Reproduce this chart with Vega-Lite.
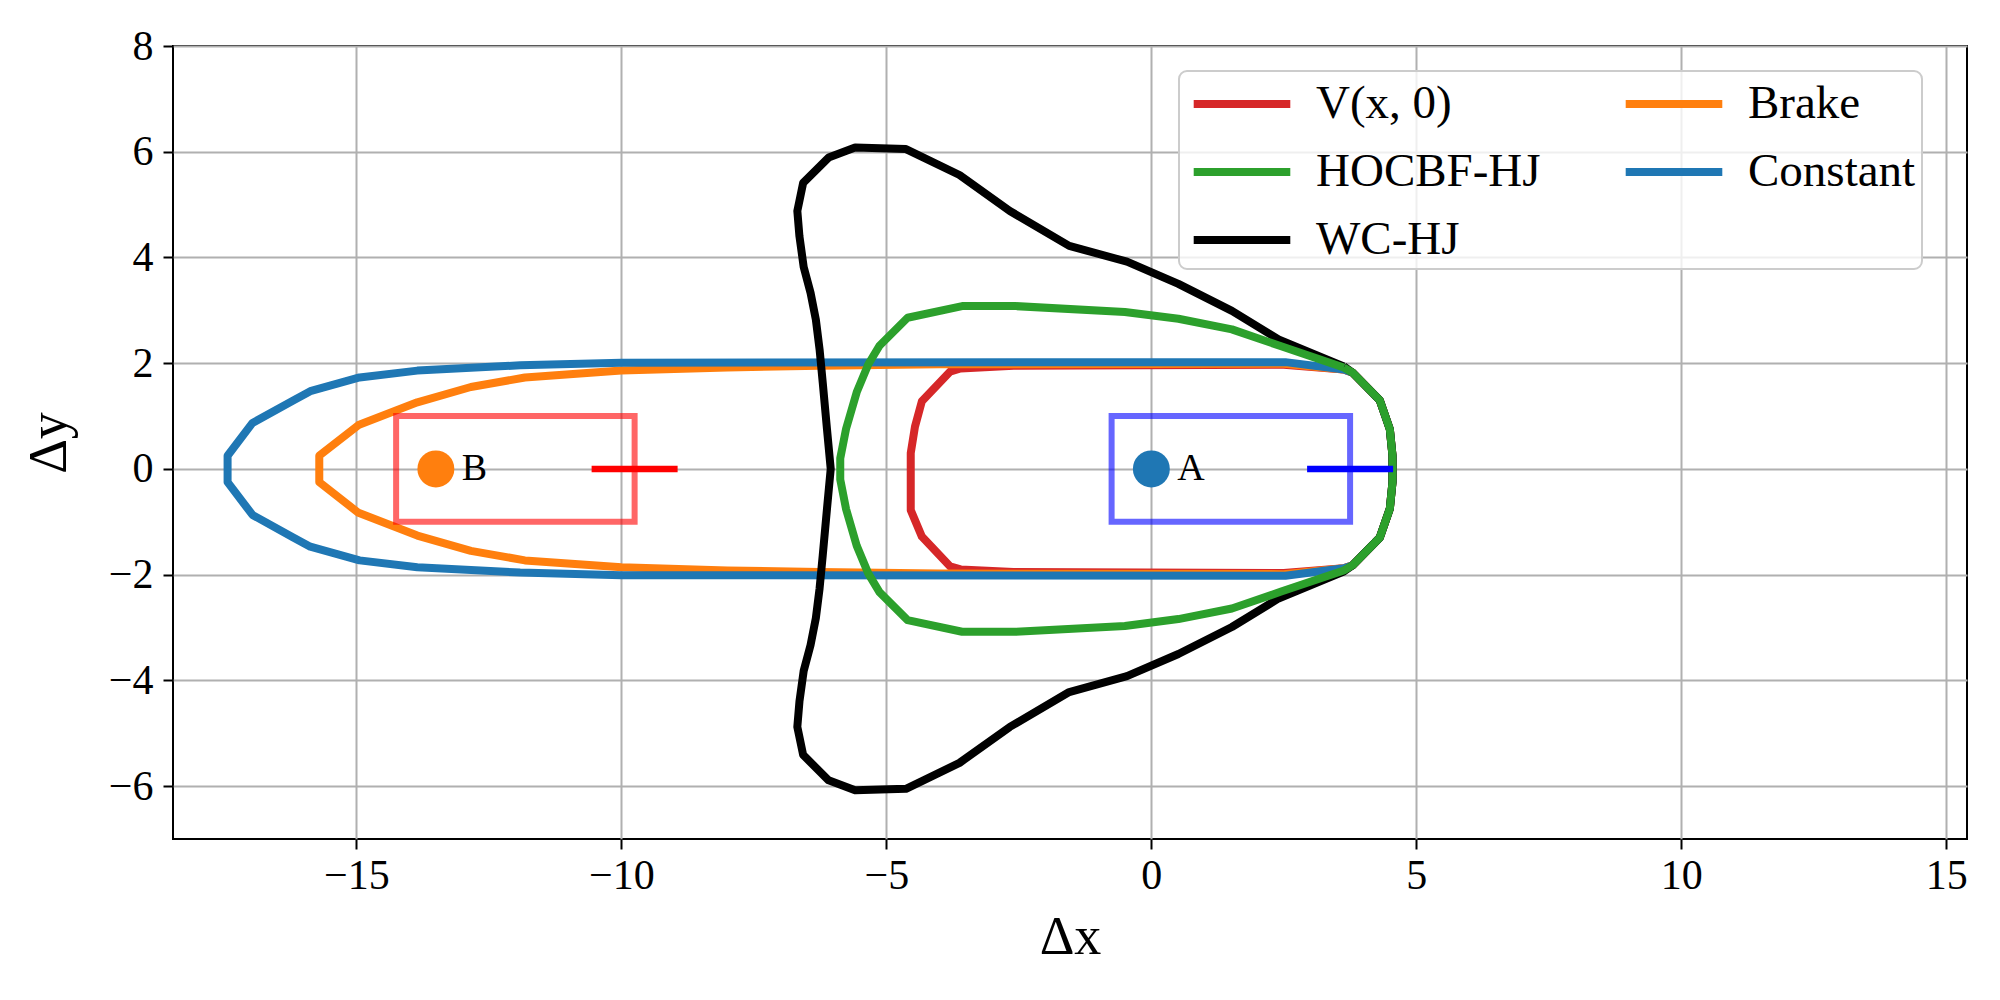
{
"$schema": "https://vega.github.io/schema/vega-lite/v6.json",
"width": 1794, "height": 793,
"autosize": {"type": "none"},
"padding": {"left": 173, "top": 46, "right": 33, "bottom": 161},
"background": "white",
"datasets": {
"curves": [
{"method":"V(x, 0)","i":0,"x":3.63,"y":1.88},{"method":"V(x, 0)","i":1,"x":2.5,"y":1.97},{"method":"V(x, 0)","i":2,"x":-2.6,"y":1.95},{"method":"V(x, 0)","i":3,"x":-3.6,"y":1.9},{"method":"V(x, 0)","i":4,"x":-3.8,"y":1.84},{"method":"V(x, 0)","i":5,"x":-4.33,"y":1.28},{"method":"V(x, 0)","i":6,"x":-4.46,"y":0.8},{"method":"V(x, 0)","i":7,"x":-4.54,"y":0.3},{"method":"V(x, 0)","i":8,"x":-4.54,"y":-0.3},{"method":"V(x, 0)","i":9,"x":-4.54,"y":-0.78},{"method":"V(x, 0)","i":10,"x":-4.33,"y":-1.28},{"method":"V(x, 0)","i":11,"x":-3.8,"y":-1.84},{"method":"V(x, 0)","i":12,"x":-3.6,"y":-1.9},{"method":"V(x, 0)","i":13,"x":-2.6,"y":-1.95},{"method":"V(x, 0)","i":14,"x":2.5,"y":-1.97},{"method":"V(x, 0)","i":15,"x":3.63,"y":-1.88},{"method":"V(x, 0)","i":16,"x":3.8,"y":-1.82},{"method":"V(x, 0)","i":17,"x":4.31,"y":-1.3},{"method":"V(x, 0)","i":18,"x":4.5,"y":-0.75},{"method":"V(x, 0)","i":19,"x":4.55,"y":-0.25},{"method":"V(x, 0)","i":20,"x":4.55,"y":0.25},{"method":"V(x, 0)","i":21,"x":4.5,"y":0.75},{"method":"V(x, 0)","i":22,"x":4.31,"y":1.3},{"method":"V(x, 0)","i":23,"x":3.8,"y":1.82},{"method":"V(x, 0)","i":24,"x":3.63,"y":1.88},
{"method":"Brake","i":0,"x":3.63,"y":1.88},{"method":"Brake","i":1,"x":2.5,"y":1.99},{"method":"Brake","i":2,"x":-4.0,"y":1.98},{"method":"Brake","i":3,"x":-6.26,"y":1.95},{"method":"Brake","i":4,"x":-8.0,"y":1.92},{"method":"Brake","i":5,"x":-10.0,"y":1.86},{"method":"Brake","i":6,"x":-11.82,"y":1.73},{"method":"Brake","i":7,"x":-12.84,"y":1.55},{"method":"Brake","i":8,"x":-13.85,"y":1.26},{"method":"Brake","i":9,"x":-14.96,"y":0.83},{"method":"Brake","i":10,"x":-15.7,"y":0.25},{"method":"Brake","i":11,"x":-15.7,"y":-0.25},{"method":"Brake","i":12,"x":-14.96,"y":-0.83},{"method":"Brake","i":13,"x":-13.85,"y":-1.26},{"method":"Brake","i":14,"x":-12.84,"y":-1.55},{"method":"Brake","i":15,"x":-11.82,"y":-1.73},{"method":"Brake","i":16,"x":-10.0,"y":-1.86},{"method":"Brake","i":17,"x":-8.0,"y":-1.92},{"method":"Brake","i":18,"x":-6.26,"y":-1.95},{"method":"Brake","i":19,"x":-4.0,"y":-1.98},{"method":"Brake","i":20,"x":2.5,"y":-1.99},{"method":"Brake","i":21,"x":3.63,"y":-1.88},{"method":"Brake","i":22,"x":3.8,"y":-1.82},{"method":"Brake","i":23,"x":4.31,"y":-1.3},{"method":"Brake","i":24,"x":4.5,"y":-0.75},{"method":"Brake","i":25,"x":4.55,"y":-0.25},{"method":"Brake","i":26,"x":4.55,"y":0.25},{"method":"Brake","i":27,"x":4.5,"y":0.75},{"method":"Brake","i":28,"x":4.31,"y":1.3},{"method":"Brake","i":29,"x":3.8,"y":1.82},{"method":"Brake","i":30,"x":3.63,"y":1.88},
{"method":"Constant","i":0,"x":3.63,"y":1.88},{"method":"Constant","i":1,"x":2.53,"y":2.02},{"method":"Constant","i":2,"x":-10.0,"y":2.01},{"method":"Constant","i":3,"x":-11.91,"y":1.96},{"method":"Constant","i":4,"x":-13.85,"y":1.86},{"method":"Constant","i":5,"x":-14.94,"y":1.73},{"method":"Constant","i":6,"x":-15.87,"y":1.47},{"method":"Constant","i":7,"x":-16.2,"y":1.29},{"method":"Constant","i":8,"x":-16.96,"y":0.87},{"method":"Constant","i":9,"x":-17.43,"y":0.25},{"method":"Constant","i":10,"x":-17.43,"y":-0.25},{"method":"Constant","i":11,"x":-16.96,"y":-0.87},{"method":"Constant","i":12,"x":-16.2,"y":-1.29},{"method":"Constant","i":13,"x":-15.87,"y":-1.47},{"method":"Constant","i":14,"x":-14.94,"y":-1.73},{"method":"Constant","i":15,"x":-13.85,"y":-1.86},{"method":"Constant","i":16,"x":-11.91,"y":-1.96},{"method":"Constant","i":17,"x":-10.0,"y":-2.01},{"method":"Constant","i":18,"x":2.53,"y":-2.02},{"method":"Constant","i":19,"x":3.63,"y":-1.88},{"method":"Constant","i":20,"x":3.8,"y":-1.82},{"method":"Constant","i":21,"x":4.31,"y":-1.3},{"method":"Constant","i":22,"x":4.5,"y":-0.75},{"method":"Constant","i":23,"x":4.55,"y":-0.25},{"method":"Constant","i":24,"x":4.55,"y":0.25},{"method":"Constant","i":25,"x":4.5,"y":0.75},{"method":"Constant","i":26,"x":4.31,"y":1.3},{"method":"Constant","i":27,"x":3.8,"y":1.82},{"method":"Constant","i":28,"x":3.63,"y":1.88},
{"method":"WC-HJ","i":0,"x":3.63,"y":1.94},{"method":"WC-HJ","i":1,"x":2.4,"y":2.45},{"method":"WC-HJ","i":2,"x":1.52,"y":2.99},{"method":"WC-HJ","i":3,"x":0.51,"y":3.5},{"method":"WC-HJ","i":4,"x":-0.46,"y":3.92},{"method":"WC-HJ","i":5,"x":-1.55,"y":4.22},{"method":"WC-HJ","i":6,"x":-2.67,"y":4.88},{"method":"WC-HJ","i":7,"x":-3.62,"y":5.56},{"method":"WC-HJ","i":8,"x":-4.63,"y":6.05},{"method":"WC-HJ","i":9,"x":-5.59,"y":6.08},{"method":"WC-HJ","i":10,"x":-6.09,"y":5.89},{"method":"WC-HJ","i":11,"x":-6.57,"y":5.41},{"method":"WC-HJ","i":12,"x":-6.68,"y":4.88},{"method":"WC-HJ","i":13,"x":-6.64,"y":4.4},{"method":"WC-HJ","i":14,"x":-6.56,"y":3.82},{"method":"WC-HJ","i":15,"x":-6.43,"y":3.33},{"method":"WC-HJ","i":16,"x":-6.33,"y":2.82},{"method":"WC-HJ","i":17,"x":-6.26,"y":2.26},{"method":"WC-HJ","i":18,"x":-6.2,"y":1.63},{"method":"WC-HJ","i":19,"x":-6.12,"y":0.75},{"method":"WC-HJ","i":20,"x":-6.05,"y":0.0},{"method":"WC-HJ","i":21,"x":-6.12,"y":-0.75},{"method":"WC-HJ","i":22,"x":-6.2,"y":-1.63},{"method":"WC-HJ","i":23,"x":-6.26,"y":-2.26},{"method":"WC-HJ","i":24,"x":-6.33,"y":-2.82},{"method":"WC-HJ","i":25,"x":-6.43,"y":-3.33},{"method":"WC-HJ","i":26,"x":-6.56,"y":-3.82},{"method":"WC-HJ","i":27,"x":-6.64,"y":-4.4},{"method":"WC-HJ","i":28,"x":-6.68,"y":-4.88},{"method":"WC-HJ","i":29,"x":-6.57,"y":-5.41},{"method":"WC-HJ","i":30,"x":-6.09,"y":-5.89},{"method":"WC-HJ","i":31,"x":-5.59,"y":-6.08},{"method":"WC-HJ","i":32,"x":-4.63,"y":-6.05},{"method":"WC-HJ","i":33,"x":-3.62,"y":-5.56},{"method":"WC-HJ","i":34,"x":-2.67,"y":-4.88},{"method":"WC-HJ","i":35,"x":-1.55,"y":-4.22},{"method":"WC-HJ","i":36,"x":-0.46,"y":-3.92},{"method":"WC-HJ","i":37,"x":0.51,"y":-3.5},{"method":"WC-HJ","i":38,"x":1.52,"y":-2.99},{"method":"WC-HJ","i":39,"x":2.4,"y":-2.45},{"method":"WC-HJ","i":40,"x":3.63,"y":-1.94},{"method":"WC-HJ","i":41,"x":3.8,"y":-1.82},{"method":"WC-HJ","i":42,"x":4.31,"y":-1.3},{"method":"WC-HJ","i":43,"x":4.5,"y":-0.75},{"method":"WC-HJ","i":44,"x":4.55,"y":-0.25},{"method":"WC-HJ","i":45,"x":4.55,"y":0.25},{"method":"WC-HJ","i":46,"x":4.5,"y":0.75},{"method":"WC-HJ","i":47,"x":4.31,"y":1.3},{"method":"WC-HJ","i":48,"x":3.8,"y":1.82},{"method":"WC-HJ","i":49,"x":3.63,"y":1.94},
{"method":"HOCBF-HJ","i":0,"x":3.63,"y":1.92},{"method":"HOCBF-HJ","i":1,"x":2.45,"y":2.32},{"method":"HOCBF-HJ","i":2,"x":1.52,"y":2.64},{"method":"HOCBF-HJ","i":3,"x":0.51,"y":2.84},{"method":"HOCBF-HJ","i":4,"x":-0.5,"y":2.97},{"method":"HOCBF-HJ","i":5,"x":-2.56,"y":3.08},{"method":"HOCBF-HJ","i":6,"x":-3.57,"y":3.08},{"method":"HOCBF-HJ","i":7,"x":-4.6,"y":2.86},{"method":"HOCBF-HJ","i":8,"x":-5.13,"y":2.33},{"method":"HOCBF-HJ","i":9,"x":-5.34,"y":1.98},{"method":"HOCBF-HJ","i":10,"x":-5.56,"y":1.45},{"method":"HOCBF-HJ","i":11,"x":-5.76,"y":0.76},{"method":"HOCBF-HJ","i":12,"x":-5.87,"y":0.2},{"method":"HOCBF-HJ","i":13,"x":-5.87,"y":-0.2},{"method":"HOCBF-HJ","i":14,"x":-5.76,"y":-0.76},{"method":"HOCBF-HJ","i":15,"x":-5.56,"y":-1.45},{"method":"HOCBF-HJ","i":16,"x":-5.34,"y":-1.98},{"method":"HOCBF-HJ","i":17,"x":-5.13,"y":-2.33},{"method":"HOCBF-HJ","i":18,"x":-4.6,"y":-2.86},{"method":"HOCBF-HJ","i":19,"x":-3.57,"y":-3.08},{"method":"HOCBF-HJ","i":20,"x":-2.56,"y":-3.08},{"method":"HOCBF-HJ","i":21,"x":-0.5,"y":-2.97},{"method":"HOCBF-HJ","i":22,"x":0.51,"y":-2.84},{"method":"HOCBF-HJ","i":23,"x":1.52,"y":-2.64},{"method":"HOCBF-HJ","i":24,"x":2.45,"y":-2.32},{"method":"HOCBF-HJ","i":25,"x":3.63,"y":-1.92},{"method":"HOCBF-HJ","i":26,"x":3.8,"y":-1.82},{"method":"HOCBF-HJ","i":27,"x":4.31,"y":-1.3},{"method":"HOCBF-HJ","i":28,"x":4.5,"y":-0.75},{"method":"HOCBF-HJ","i":29,"x":4.55,"y":-0.25},{"method":"HOCBF-HJ","i":30,"x":4.55,"y":0.25},{"method":"HOCBF-HJ","i":31,"x":4.5,"y":0.75},{"method":"HOCBF-HJ","i":32,"x":4.31,"y":1.3},{"method":"HOCBF-HJ","i":33,"x":3.8,"y":1.82},{"method":"HOCBF-HJ","i":34,"x":3.63,"y":1.92}
],
"cars": [
{"car":"A","x":0,"y":0,"bx1":-0.75,"bx2":3.75,"by1":-1,"by2":1,"sx1":3.0,"sx2":4.5},
{"car":"B","x":-13.5,"y":0,"bx1":-14.25,"bx2":-9.75,"by1":-1,"by2":1,"sx1":-10.5,"sx2":-9.0}
]
},
"layer": [
{"data":{"name":"curves"},"transform":[{"filter":"datum.method === 'V(x, 0)'"}],
 "mark":{"type":"line","strokeWidth":8,"strokeJoin":"round"},
 "encoding":{
  "x":{"field":"x","type":"quantitative","title":"Δx","scale":{"domain":[-18.46,15.39],"nice":false,"zero":false},"axis":{"values":[-15,-10,-5,0,5,10,15]}},
  "y":{"field":"y","type":"quantitative","title":"Δy","scale":{"domain":[-7,8],"nice":false,"zero":false},"axis":{"values":[-6,-4,-2,0,2,4,6,8]}},
  "order":{"field":"i","type":"quantitative"},
  "color":{"field":"method","type":"nominal","scale":{"domain":["V(x, 0)","HOCBF-HJ","WC-HJ","Brake","Constant"],"range":["#d62728","#2ca02c","#000000","#ff7f0e","#1f77b4"]},"legend":{"title":null,"orient":"none","legendX":1006,"legendY":25,"columns":2}}
 }},
{"data":{"name":"curves"},"transform":[{"filter":"datum.method === 'Brake'"}],
 "mark":{"type":"line","strokeWidth":8,"strokeJoin":"round"},
 "encoding":{
  "x":{"field":"x","type":"quantitative","title":"Δx","scale":{"domain":[-18.46,15.39],"nice":false,"zero":false}},
  "y":{"field":"y","type":"quantitative","title":"Δy","scale":{"domain":[-7,8],"nice":false,"zero":false}},
  "order":{"field":"i","type":"quantitative"},
  "color":{"field":"method","type":"nominal"}
 }},
{"data":{"name":"curves"},"transform":[{"filter":"datum.method === 'Constant'"}],
 "mark":{"type":"line","strokeWidth":8,"strokeJoin":"round"},
 "encoding":{
  "x":{"field":"x","type":"quantitative","title":"Δx","scale":{"domain":[-18.46,15.39],"nice":false,"zero":false}},
  "y":{"field":"y","type":"quantitative","title":"Δy","scale":{"domain":[-7,8],"nice":false,"zero":false}},
  "order":{"field":"i","type":"quantitative"},
  "color":{"field":"method","type":"nominal"}
 }},
{"data":{"name":"curves"},"transform":[{"filter":"datum.method === 'WC-HJ'"}],
 "mark":{"type":"line","strokeWidth":8,"strokeJoin":"round"},
 "encoding":{
  "x":{"field":"x","type":"quantitative","title":"Δx","scale":{"domain":[-18.46,15.39],"nice":false,"zero":false}},
  "y":{"field":"y","type":"quantitative","title":"Δy","scale":{"domain":[-7,8],"nice":false,"zero":false}},
  "order":{"field":"i","type":"quantitative"},
  "color":{"field":"method","type":"nominal"}
 }},
{"data":{"name":"curves"},"transform":[{"filter":"datum.method === 'HOCBF-HJ'"}],
 "mark":{"type":"line","strokeWidth":8,"strokeJoin":"round"},
 "encoding":{
  "x":{"field":"x","type":"quantitative","title":"Δx","scale":{"domain":[-18.46,15.39],"nice":false,"zero":false}},
  "y":{"field":"y","type":"quantitative","title":"Δy","scale":{"domain":[-7,8],"nice":false,"zero":false}},
  "order":{"field":"i","type":"quantitative"},
  "color":{"field":"method","type":"nominal"}
 }},
{"data":{"name":"cars"},"transform":[{"filter":"datum.car === 'A'"}],
 "mark":{"type":"rect","filled":false,"stroke":"blue","strokeOpacity":0.6,"strokeWidth":6},
 "encoding":{
  "x":{"field":"bx1","type":"quantitative","title":"Δx","scale":{"domain":[-18.46,15.39],"nice":false,"zero":false}},
  "x2":{"field":"bx2"},
  "y":{"field":"by1","type":"quantitative","title":"Δy","scale":{"domain":[-7,8],"nice":false,"zero":false}},
  "y2":{"field":"by2"}
 }},
{"data":{"name":"cars"},"transform":[{"filter":"datum.car === 'B'"}],
 "mark":{"type":"rect","filled":false,"stroke":"red","strokeOpacity":0.6,"strokeWidth":6},
 "encoding":{
  "x":{"field":"bx1","type":"quantitative","title":"Δx","scale":{"domain":[-18.46,15.39],"nice":false,"zero":false}},
  "x2":{"field":"bx2"},
  "y":{"field":"by1","type":"quantitative","title":"Δy","scale":{"domain":[-7,8],"nice":false,"zero":false}},
  "y2":{"field":"by2"}
 }},
{"data":{"name":"cars"},"transform":[{"filter":"datum.car === 'A'"}],
 "mark":{"type":"rule","color":"#0000ff","strokeWidth":6.5,"strokeCap":"square"},
 "encoding":{
  "x":{"field":"sx1","type":"quantitative","title":"Δx","scale":{"domain":[-18.46,15.39],"nice":false,"zero":false}},
  "x2":{"field":"sx2"},
  "y":{"field":"y","type":"quantitative","title":"Δy","scale":{"domain":[-7,8],"nice":false,"zero":false}}
 }},
{"data":{"name":"cars"},"transform":[{"filter":"datum.car === 'B'"}],
 "mark":{"type":"rule","color":"#ff0000","strokeWidth":6.5,"strokeCap":"square"},
 "encoding":{
  "x":{"field":"sx1","type":"quantitative","title":"Δx","scale":{"domain":[-18.46,15.39],"nice":false,"zero":false}},
  "x2":{"field":"sx2"},
  "y":{"field":"y","type":"quantitative","title":"Δy","scale":{"domain":[-7,8],"nice":false,"zero":false}}
 }},
{"data":{"name":"cars"},"transform":[{"filter":"datum.car === 'A'"}],
 "mark":{"type":"point","filled":true,"shape":"circle","size":1365,"color":"#1f77b4","opacity":1},
 "encoding":{
  "x":{"field":"x","type":"quantitative","title":"Δx","scale":{"domain":[-18.46,15.39],"nice":false,"zero":false}},
  "y":{"field":"y","type":"quantitative","title":"Δy","scale":{"domain":[-7,8],"nice":false,"zero":false}}
 }},
{"data":{"name":"cars"},"transform":[{"filter":"datum.car === 'B'"}],
 "mark":{"type":"point","filled":true,"shape":"circle","size":1365,"color":"#ff7f0e","opacity":1},
 "encoding":{
  "x":{"field":"x","type":"quantitative","title":"Δx","scale":{"domain":[-18.46,15.39],"nice":false,"zero":false}},
  "y":{"field":"y","type":"quantitative","title":"Δy","scale":{"domain":[-7,8],"nice":false,"zero":false}}
 }},
{"data":{"name":"cars"},
 "mark":{"type":"text","align":"left","baseline":"middle","dx":26,"font":"Liberation Serif","fontSize":38,"color":"black"},
 "encoding":{
  "x":{"field":"x","type":"quantitative","title":"Δx","scale":{"domain":[-18.46,15.39],"nice":false,"zero":false}},
  "y":{"field":"y","type":"quantitative","title":"Δy","scale":{"domain":[-7,8],"nice":false,"zero":false}},
  "text":{"field":"car","type":"nominal"}
 }}
],
"config": {
 "font": "Liberation Serif",
 "view": {"stroke": "black", "strokeWidth": 2},
 "axis": {"domain": false, "grid": true, "gridColor": "#b0b0b0", "gridWidth": 2, "tickColor": "black", "tickWidth": 2, "tickSize": 10, "labelFont": "Liberation Serif", "labelFontSize": 42, "labelColor": "black", "titleFont": "Liberation Serif", "titleFontSize": 54, "titleFontWeight": "normal", "titleColor": "black", "labelFlush": false, "labelOverlap": false},
 "axisX": {"labelPadding": 6, "titleY": 98, "titleBaseline": "middle"},
 "axisY": {"labelPadding": 10, "titleX": -124, "titleY": 396.5, "titleBaseline": "middle", "titleAngle": -90, "titleAlign": "center"},
 "legend": {"symbolType": "M-2.1,0H2.1", "symbolSize": 2116, "symbolStrokeWidth": 8, "symbolOffset": 30, "labelOffset": 47, "labelFont": "Liberation Serif", "labelFontSize": 47, "labelColor": "black", "labelLimit": 0, "padding": 6, "rowPadding": 18, "columnPadding": 68, "fillColor": "rgba(255,255,255,0.8)", "strokeColor": "#cccccc", "strokeWidth": 2, "cornerRadius": 8}
}
}
